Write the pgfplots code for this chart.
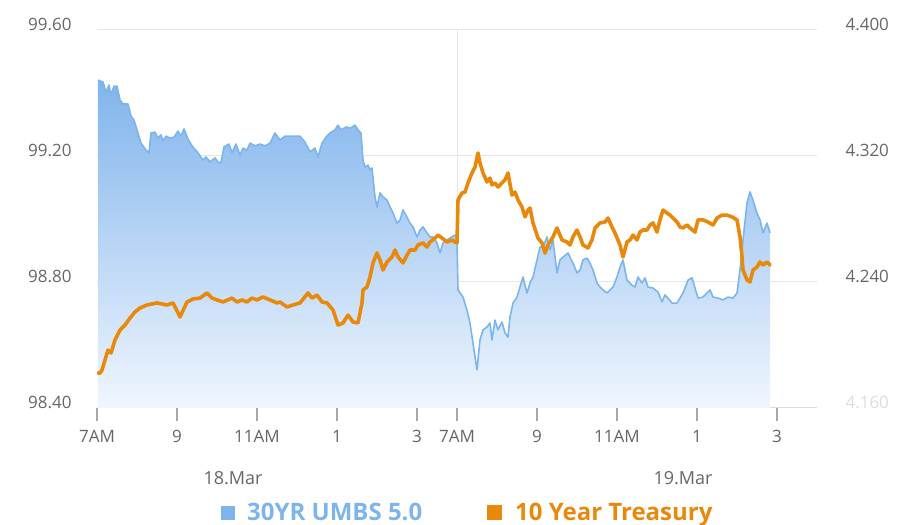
\documentclass[border=0pt]{standalone}
\usepackage{fontspec}
\setmainfont{Open Sans}
\usepackage{pgfplots}
\pgfplotsset{compat=1.18}
\usepackage{pgfplotstable}
\definecolor{umbs}{HTML}{7CB5EC}
\definecolor{umbstop}{RGB}{128,180,236}
\definecolor{umbsbot}{RGB}{240,246,254}
\definecolor{tsy}{HTML}{E8890C}
\definecolor{gridc}{HTML}{E6E6E6}
\definecolor{labc}{HTML}{666666}
\definecolor{tickc}{HTML}{A8A8A8}
\definecolor{axc}{HTML}{D8DEE8}

\pgfplotstableread{
h v
0.025 99.441
0.150 99.435
0.225 99.403
0.300 99.425
0.350 99.394
0.425 99.422
0.500 99.422
0.575 99.378
0.650 99.365
0.775 99.365
0.850 99.327
0.925 99.314
1.000 99.283
1.100 99.241
1.225 99.219
1.300 99.210
1.350 99.273
1.450 99.276
1.525 99.257
1.600 99.267
1.650 99.248
1.725 99.263
1.825 99.257
1.925 99.260
2.025 99.279
2.100 99.263
2.175 99.286
2.275 99.254
2.375 99.232
2.525 99.210
2.650 99.187
2.725 99.197
2.825 99.181
2.950 99.194
3.025 99.181
3.100 99.178
3.175 99.229
3.300 99.238
3.375 99.210
3.475 99.238
3.575 99.203
3.650 99.225
3.750 99.219
3.825 99.241
3.950 99.232
4.075 99.238
4.200 99.232
4.325 99.241
4.450 99.273
4.575 99.251
4.700 99.263
4.825 99.263
4.950 99.263
5.075 99.263
5.200 99.244
5.325 99.213
5.450 99.225
5.525 99.197
5.625 99.241
5.725 99.260
5.825 99.273
5.950 99.283
6.025 99.298
6.100 99.283
6.225 99.292
6.350 99.289
6.450 99.298
6.525 99.283
6.600 99.273
6.650 99.187
6.700 99.165
6.775 99.171
6.825 99.156
6.875 99.162
6.950 99.070
7.000 99.038
7.075 99.083
7.150 99.070
7.250 99.060
7.325 99.038
7.400 99.019
7.500 98.987
7.575 98.997
7.650 99.029
7.750 99.006
7.825 98.987
7.900 98.975
8.000 98.943
8.075 98.965
8.150 98.975
8.250 98.956
8.325 98.943
8.400 98.943
8.500 98.924
8.575 98.892
8.650 98.924
8.750 98.933
8.825 98.940
8.950 98.949
9.000 98.933
9.025 98.775
9.150 98.752
9.250 98.711
9.325 98.670
9.400 98.606
9.500 98.521
9.575 98.616
9.650 98.648
9.750 98.657
9.825 98.670
9.875 98.616
9.950 98.679
10.025 98.648
10.125 98.673
10.200 98.638
10.275 98.625
10.325 98.689
10.400 98.733
10.500 98.752
10.575 98.784
10.650 98.816
10.750 98.765
10.825 98.797
10.900 98.816
11.000 98.870
11.075 98.911
11.150 98.911
11.250 98.943
11.325 98.902
11.400 98.933
11.500 98.829
11.575 98.870
11.650 98.879
11.775 98.892
11.900 98.860
12.000 98.829
12.075 98.838
12.150 98.870
12.250 98.876
12.325 98.860
12.400 98.838
12.500 98.797
12.575 98.784
12.650 98.775
12.750 98.765
12.825 98.775
12.900 98.784
13.000 98.816
13.075 98.848
13.150 98.870
13.250 98.806
13.375 98.790
13.450 98.784
13.525 98.816
13.625 98.797
13.700 98.813
13.775 98.784
13.900 98.781
14.025 98.768
14.125 98.737
14.200 98.759
14.275 98.749
14.375 98.733
14.500 98.733
14.575 98.749
14.650 98.765
14.775 98.806
14.875 98.813
14.950 98.781
15.025 98.749
15.150 98.752
15.250 98.765
15.325 98.775
15.400 98.752
15.525 98.749
15.650 98.743
15.775 98.752
15.900 98.749
16.000 98.765
16.075 98.838
16.150 98.933
16.250 99.051
16.325 99.086
16.400 99.060
16.500 99.019
16.575 98.997
16.650 98.956
16.750 98.987
16.825 98.956
}\umbsdata

\pgfplotstableread{
h r
0.025 4.1822
0.075 4.1822
0.125 4.1841
0.200 4.1905
0.275 4.1968
0.350 4.1949
0.450 4.2032
0.575 4.2095
0.700 4.2127
0.825 4.2171
0.950 4.2210
1.075 4.2235
1.250 4.2254
1.500 4.2267
1.750 4.2254
1.900 4.2267
2.075 4.2178
2.250 4.2273
2.400 4.2292
2.575 4.2298
2.750 4.2330
2.875 4.2298
3.000 4.2286
3.150 4.2273
3.375 4.2298
3.500 4.2273
3.625 4.2286
3.750 4.2273
3.875 4.2298
4.000 4.2286
4.150 4.2305
4.325 4.2286
4.500 4.2267
4.575 4.2273
4.750 4.2241
4.900 4.2254
5.075 4.2267
5.275 4.2330
5.375 4.2298
5.500 4.2317
5.625 4.2273
5.750 4.2267
5.900 4.2222
6.025 4.2127
6.150 4.2140
6.275 4.2190
6.400 4.2146
6.525 4.2140
6.625 4.2267
6.650 4.2349
6.750 4.2368
6.825 4.2432
6.900 4.2521
7.000 4.2584
7.075 4.2540
7.150 4.2476
7.250 4.2527
7.375 4.2559
7.450 4.2603
7.525 4.2559
7.650 4.2521
7.750 4.2571
7.825 4.2603
7.950 4.2603
8.025 4.2635
8.150 4.2648
8.250 4.2622
8.325 4.2654
8.450 4.2679
8.525 4.2698
8.625 4.2679
8.750 4.2654
8.875 4.2667
8.950 4.2654
9.000 4.2648
9.025 4.2921
9.125 4.2965
9.200 4.2971
9.275 4.3029
9.375 4.3092
9.450 4.3130
9.525 4.3219
9.575 4.3156
9.650 4.3092
9.750 4.3035
9.825 4.3060
9.875 4.3016
9.950 4.3029
10.025 4.3003
10.125 4.3029
10.200 4.3048
10.275 4.3092
10.375 4.2952
10.450 4.2971
10.525 4.2921
10.625 4.2876
10.700 4.2813
10.775 4.2857
10.825 4.2870
10.900 4.2775
11.025 4.2679
11.125 4.2648
11.200 4.2584
11.275 4.2635
11.400 4.2686
11.500 4.2743
11.625 4.2667
11.750 4.2654
11.825 4.2635
11.900 4.2686
12.000 4.2730
12.075 4.2686
12.150 4.2635
12.275 4.2616
12.375 4.2667
12.450 4.2743
12.575 4.2775
12.700 4.2781
12.775 4.2806
12.875 4.2749
12.950 4.2711
13.075 4.2635
13.150 4.2559
13.250 4.2654
13.325 4.2667
13.400 4.2698
13.500 4.2667
13.575 4.2717
13.650 4.2730
13.750 4.2730
13.825 4.2762
13.900 4.2775
14.000 4.2717
14.075 4.2794
14.150 4.2857
14.250 4.2838
14.325 4.2825
14.400 4.2806
14.500 4.2781
14.575 4.2749
14.650 4.2743
14.750 4.2762
14.825 4.2743
14.950 4.2717
15.025 4.2794
15.150 4.2794
15.275 4.2781
15.400 4.2762
15.500 4.2806
15.625 4.2825
15.750 4.2825
15.875 4.2813
16.000 4.2794
16.075 4.2686
16.125 4.2559
16.150 4.2476
16.250 4.2413
16.325 4.2400
16.400 4.2476
16.500 4.2495
16.575 4.2527
16.650 4.2508
16.750 4.2527
16.825 4.2508
}\tsydata

\begin{document}
\begin{tikzpicture}
\path[use as bounding box] (0pt,0pt) rectangle (906pt,525pt);
\begin{axis}[
  at={(97pt,117pt)}, anchor=south west,
  width=720pt, height=378pt, scale only axis,
  xmin=0, xmax=18, ymin=98.4, ymax=99.6,
  axis x line*=bottom, axis y line*=left,
  y axis line style={draw=none},
  x axis line style={draw=axc, line width=1pt},
  xtick={0,2,4,6,8,9,11,13,15,17},
  xticklabels={7AM,9,11AM,1,3,7AM,9,11AM,1,3},
  ytick={98.4,98.8,99.2,99.6},
  yticklabels={98.40,98.80,99.20,99.60},
  tick align=outside,
  major tick length=13pt,
  x tick style={draw=tickc, line width=1.3pt},
  y tick style={draw=none},
  ymajorgrids,
  grid style={draw=gridc, line width=1pt},
  tick label style={font=\fontsize{17}{18}\selectfont, text=labc},
  yticklabel style={anchor=east, xshift=-9pt, yshift=6pt},
  xticklabel style={anchor=north, yshift=-6pt},
]
\draw[gridc, line width=1pt] (axis cs:9,98.4) -- (axis cs:9,99.6);
\addplot[draw=none, top color=umbstop, bottom color=umbsbot] table[x=h,y=v] {\umbsdata} |- (axis cs:0.025,98.4) -- cycle;
\addplot[umbs, line width=1.6pt, line join=round] table[x=h,y=v] {\umbsdata};
\end{axis}
\begin{axis}[
  at={(97pt,117pt)}, anchor=south west,
  width=720pt, height=378pt, scale only axis,
  xmin=0, xmax=18, ymin=4.16, ymax=4.40,
  axis x line=none, axis y line*=right,
  y axis line style={draw=none},
  ytick={4.16,4.24,4.32,4.40},
  yticklabels={\textcolor{labc!22}{4.160},4.240,4.320,4.400},
  y tick style={draw=none},
  tick label style={font=\fontsize{17}{18}\selectfont, text=labc},
  yticklabel style={anchor=west, xshift=25pt, yshift=6pt},
]
\addplot[tsy, line width=3.6pt, line join=round, line cap=round] table[x=h,y=r] {\tsydata};
\end{axis}
\node[text=labc, font=\fontsize{18}{20}\selectfont] at (233pt,47pt) {18.Mar};
\node[text=labc, font=\fontsize{18}{20}\selectfont] at (683pt,47pt) {19.Mar};
\fill[umbs] (221pt,5pt) rectangle (235pt,19pt);
\node[anchor=base west, inner sep=0pt, text=umbs, font=\fontsize{24}{26}\selectfont\bfseries] at (247pt,4pt) {30YR UMBS 5.0};
\fill[tsy] (487pt,5pt) rectangle (502pt,20pt);
\node[anchor=base west, inner sep=0pt, text=tsy, font=\fontsize{24}{26}\selectfont\bfseries] at (515pt,4pt) {10 Year Treasury};
\end{tikzpicture}
\end{document}
